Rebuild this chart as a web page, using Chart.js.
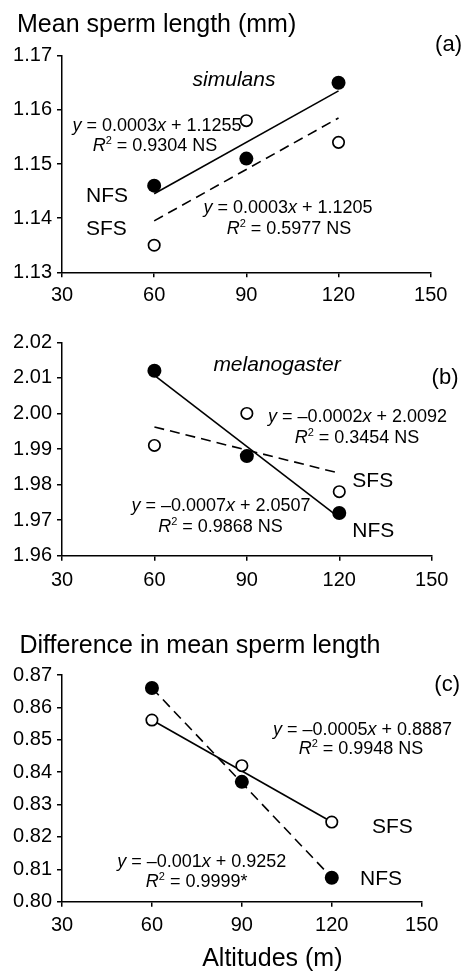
<!DOCTYPE html>
<html>
<head>
<meta charset="utf-8">
<script src="https://cdn.jsdelivr.net/npm/chart.js@4.4.1/dist/chart.umd.min.js"></script>
<style>
  html, body { margin: 0; padding: 0; background: #fff; }
  body { width: 464px; height: 971px; position: relative; overflow: hidden; }
  canvas { position: absolute; left: 0; }
</style>
</head>
<body>
<canvas id="chartA" width="464" height="320" style="top:0px"></canvas>
<canvas id="chartB" width="464" height="300" style="top:320px"></canvas>
<canvas id="chartC" width="464" height="351" style="top:620px"></canvas>
<script>
const FONT = '"Liberation Sans", Arial, sans-serif'

// altitudes (m)
const altitudes = [60, 90, 120]
const fitEnds = [60, 120]
const xTicks = [30, 60, 90, 120, 150]

// (a) simulans
const simNFS = [1.146, 1.151, 1.165]
const simSFS = [1.135, 1.158, 1.154]
const simNFSFit = [1.1445, 1.1635]
const simSFSFit = [1.1395, 1.1585]
const yTicksA = [1.13, 1.14, 1.15, 1.16, 1.17]

// (b) melanogaster
const melNFS = [2.012, 1.988, 1.972]
const melSFS = [1.991, 2.000, 1.978]
const melNFSFit = [2.0107, 1.9707]
const melSFSFit = [1.9962, 1.9832]
const yTicksB = [1.96, 1.97, 1.98, 1.99, 2.00, 2.01, 2.02]

// (c) difference
const difNFS = [0.866, 0.837, 0.8074]
const difSFS = [0.8561, 0.842, 0.8246]
const difNFSFit = [0.866, 0.8074]
const difSFSFit = [0.8561, 0.8246]
const yTicksC = [0.80, 0.81, 0.82, 0.83, 0.84, 0.85, 0.86, 0.87]

const pts = (xs, ys) => xs.map((x, i) => ({ x: x, y: ys[i] }))

// draws text made of runs: [text, style] style = '' | 'i' | 'sup'
function drawRuns(ctx, it) {
  const size = it.size || 18
  const parts = it.runs.map(r => {
    const s = r[1] || ''
    const fs = s === 'sup' ? Math.round(size * 0.62) : size
    const font = (s === 'i' ? 'italic ' : '') + fs + 'px ' + FONT
    ctx.font = font
    return { t: r[0], font: font, w: ctx.measureText(r[0]).width, dy: s === 'sup' ? -size * 0.4 : 0 }
  })
  const total = parts.reduce((a, p) => a + p.w, 0)
  let x = it.x
  if (it.align === 'center') x -= total / 2
  else if (it.align === 'right') x -= total
  ctx.textAlign = 'left'
  ctx.textBaseline = 'alphabetic'
  ctx.fillStyle = '#000'
  parts.forEach(p => {
    ctx.font = p.font
    ctx.fillText(p.t, x, it.y + p.dy)
    x += p.w
  })
}

const notesPlugin = {
  id: 'notes',
  afterDraw(chart, args, opts) {
    const ctx = chart.ctx
    ctx.save()
    ;(opts.items || []).forEach(it => drawRuns(ctx, it))
    ctx.restore()
  }
}

const eq = (m, b) => [['y', 'i'], [' = ' + m], ['x', 'i'], [' + ' + b]]
const r2 = (v) => [['R', 'i'], ['2', 'sup'], [' = ' + v]]

function makeChart(id, c) {
  return new Chart(document.getElementById(id), {
    type: 'scatter',
    data: {
      datasets: [
        { data: pts(altitudes, c.nfs), showLine: false, pointStyle: 'circle', pointRadius: 7, pointBackgroundColor: '#000', pointBorderWidth: 0, order: 1 },
        { data: pts(altitudes, c.sfs), showLine: false, pointStyle: 'circle', pointRadius: 5.7, pointBackgroundColor: '#fff', pointBorderColor: '#000', pointBorderWidth: 1.7, order: 2 },
        { data: pts(fitEnds, c.nfsFit), showLine: true, pointRadius: 0, borderColor: '#000', borderWidth: 1.6, borderDash: c.nfsDash, order: 3 },
        { data: pts(fitEnds, c.sfsFit), showLine: true, pointRadius: 0, borderColor: '#000', borderWidth: 1.6, borderDash: c.sfsDash, order: 4 }
      ]
    },
    options: {
      responsive: false,
      animation: false,
      devicePixelRatio: 1,
      layout: { padding: { left: 0, right: c.padRight, top: c.padTop, bottom: 0 } },
      plugins: {
        legend: { display: false },
        tooltip: { enabled: false },
        notes: { items: c.notes }
      },
      scales: {
        x: {
          type: 'linear', min: xTicks[0], max: xTicks[xTicks.length - 1],
          afterBuildTicks: s => { s.ticks = xTicks.map(v => ({ value: v })) },
          afterFit: s => { s.height = c.xHeight },
          grid: { display: true, drawOnChartArea: false, drawTicks: true, tickLength: 5, color: '#000', lineWidth: 1.5 },
          border: { display: true, color: '#000', width: 1.5 },
          ticks: { color: '#000', padding: c.xPad, font: { family: FONT, size: 20 }, maxRotation: 0 }
        },
        y: {
          type: 'linear', min: c.yTicks[0], max: c.yTicks[c.yTicks.length - 1],
          afterBuildTicks: s => { s.ticks = c.yTicks.map(v => ({ value: v })) },
          afterFit: s => { s.width = 62 },
          grid: { display: true, drawOnChartArea: false, drawTicks: true, tickLength: 5, color: '#000', lineWidth: 1.5 },
          border: { display: true, color: '#000', width: 1.5 },
          ticks: { color: '#000', padding: 5, font: { family: FONT, size: 20 }, callback: v => v.toFixed(2) }
        }
      }
    },
    plugins: [notesPlugin]
  })
}

makeChart('chartA', {
  nfs: simNFS, sfs: simSFS, nfsFit: simNFSFit, sfsFit: simSFSFit,
  nfsDash: [], sfsDash: [10, 6], yTicks: yTicksA,
  padRight: 33.3, padTop: 55.7, xHeight: 47.7, xPad: 6,
  notes: [
    { x: 17, y: 32, size: 25, runs: [['Mean sperm length (mm)']] },
    { x: 462, y: 51, size: 22, align: 'right', runs: [['(a)']] },
    { x: 234, y: 86, size: 21, align: 'center', runs: [['simulans', 'i']] },
    { x: 157, y: 131, size: 18, align: 'center', runs: eq('0.0003', '1.1255') },
    { x: 155, y: 151, size: 18, align: 'center', runs: r2('0.9304 NS') },
    { x: 86, y: 202, size: 21, runs: [['NFS']] },
    { x: 86, y: 235, size: 21, runs: [['SFS']] },
    { x: 288, y: 213, size: 18, align: 'center', runs: eq('0.0003', '1.1205') },
    { x: 289, y: 234, size: 18, align: 'center', runs: r2('0.5977 NS') }
  ]
})

makeChart('chartB', {
  nfs: melNFS, sfs: melSFS, nfsFit: melNFSFit, sfsFit: melSFSFit,
  nfsDash: [], sfsDash: [10, 6], yTicks: yTicksB,
  padRight: 32.3, padTop: 22.3, xHeight: 64.3, xPad: 8,
  notes: [
    { x: 277, y: 50.7, size: 21, align: 'center', runs: [['melanogaster', 'i']] },
    { x: 458.5, y: 64, size: 22, align: 'right', runs: [['(b)']] },
    { x: 357.5, y: 101.7, size: 18, align: 'center', runs: eq('–0.0002', '2.0092') },
    { x: 357, y: 122.7, size: 18, align: 'center', runs: r2('0.3454 NS') },
    { x: 352.3, y: 167.3, size: 21, runs: [['SFS']] },
    { x: 352.3, y: 217.3, size: 21, runs: [['NFS']] },
    { x: 221, y: 190.7, size: 18, align: 'center', runs: eq('–0.0007', '2.0507') },
    { x: 220.5, y: 211.7, size: 18, align: 'center', runs: r2('0.9868 NS') }
  ]
})

makeChart('chartC', {
  nfs: difNFS, sfs: difSFS, nfsFit: difNFSFit, sfsFit: difSFSFit,
  nfsDash: [10, 6], sfsDash: [], yTicks: yTicksC,
  padRight: 42.3, padTop: 55, xHeight: 69.3, xPad: 7,
  notes: [
    { x: 19.5, y: 33, size: 25, runs: [['Difference in mean sperm length']] },
    { x: 460, y: 71, size: 22, align: 'right', runs: [['(c)']] },
    { x: 362.5, y: 115, size: 18, align: 'center', runs: eq('–0.0005', '0.8887') },
    { x: 361, y: 134, size: 18, align: 'center', runs: r2('0.9948 NS') },
    { x: 372, y: 213.3, size: 21, runs: [['SFS']] },
    { x: 360, y: 265, size: 21, runs: [['NFS']] },
    { x: 201.7, y: 246.7, size: 18, align: 'center', runs: eq('–0.001', '0.9252') },
    { x: 196.7, y: 266.7, size: 18, align: 'center', runs: r2('0.9999*') },
    { x: 272.3, y: 346, size: 25, align: 'center', runs: [['Altitudes (m)']] }
  ]
})
</script>
</body>
</html>
